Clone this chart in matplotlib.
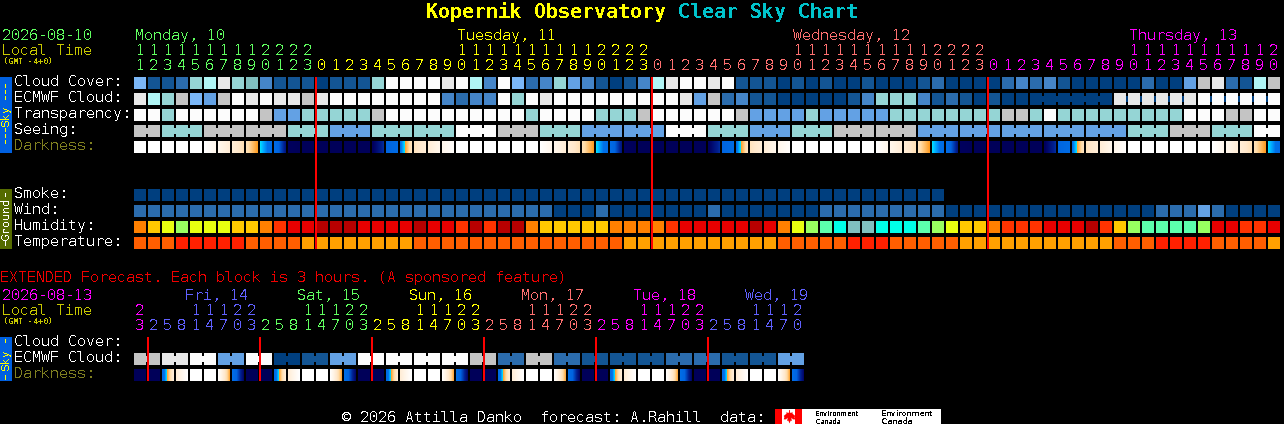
import numpy as np
import matplotlib
matplotlib.use("Agg")
import matplotlib.pyplot as plt
from matplotlib.colors import LinearSegmentedColormap

plt.rcParams['text.antialiased'] = False
plt.rcParams['text.hinting'] = 'native'
plt.rcParams['text.hinting_factor'] = 1
MONO = 'DejaVu Sans Mono'

# ---------- data ----------
main_hours = [11,12,13,14,15,16,17,18,19,20,21,22,23,
              0,1,2,3,4,5,6,7,8,9,10,11,12,13,14,15,16,17,18,19,20,21,22,23,
              0,1,2,3,4,5,6,7,8,9,10,11,12,13,14,15,16,17,18,19,20,21,22,23,
              0,1,2,3,4,5,6,7,8,9,10,11,12,13,14,15,16,17,18,19,20]
main_days = ["Monday, 10", "Tuesday, 11", "Wednesday, 12", "Thursday, 13"]
main_day_cols = [13, 24, 24, 21]
main_label_cols = [0, 23, 47, 71]
main_day_colors = ['#60FF60', '#FFFF00', '#FF7070', '#FF00FF']

ext_hours = [23,2,5,8,11,14,17,20,23,2,5,8,11,14,17,20,23,2,5,8,11,14,17,20,23,
             2,5,8,11,14,17,20,23,2,5,8,11,14,17,20,23,2,5,8,11,14,17,20]
ext_days = ["", "Fri, 14", "Sat, 15", "Sun, 16", "Mon, 17", "Tue, 18", "Wed, 19"]
ext_day_cols = [1, 8, 8, 8, 8, 8, 7]
ext_day_colors = ['#FF00FF', '#6060FF', '#60FF60', '#FFFF00', '#FF7070', '#FF00FF', '#6060FF']

sky_colors = dict(a='#003F7F', b='#135594', c='#2B6CAD', d='#4585C8', e='#63A1E4', f='#7BB7F8',
                  g='#95D5D5', G='#80BFBF', h='#B0F5F5', i='#C4C4C4', j='#E8E8E8', w='#FCFCFC')
hum_colors = dict(O='#FF8000', Y='#FFC800', L='#E8FF10', G='#98FF60', M='#5CFFAC', C='#00FFE8',
                  T='#80BFBF', R='#FF3300', r='#E80000', D='#B80000')
temp_colors = dict(o='#FF5E00', f='#FF2000', a='#FFA000')

cloud_cover = "fbbcghjgGdbbb" + "abbbgwww" + "wjwhdwfcdgedbabd" + "hjwwjwbbbababaa" + "baaabcaaa" + "acdcdbaaaaacaaeijcbhi"
ecmwf_cloud = "jhgifeiwjwjji" + "jwwwwwww" + "wdcddwgwjwwwwwww" + "wwjeicdbbaaaaab" + "dgggdbcba" + "baaaaaaaajjjjjjwwwwww"
transparency = "wwgwwwwwwieeg" + "ggggiwww" + "wwwwwwwgwwwwgggi" + "wwwwwwieeeegeee" + "eeggggggg" + "giigwgggggggggwwwiiww"
seeing_blocks = "igiigeggwigeewgegiieeeeegigw"
seeing_sizes = [2] + [3] * 26 + [2]
smoke = "aaaaaaaaaaaaaaaaaaaaaaaaaaaaaaaaaaaaaaaaaaaaaaaaaaaaaaaaaa"
wind = "ccccccccccccc" + "cccccccc" + "cccccccccaaacaaa" + "aaaacaaaaaaaccccccccc" + "aaa" + "aaaaaaaaaaaacccecaaaa"
humidity = "OYLGLLLYYORrr" + "DDDrrrrD" + "rrRDRDDOYYYYYOOO" + "ORrrrrrDrOLGMCT" + "TCCCMGLYY" + "ORRRrrrDRYGMMMMGrrRRr"
temperature = "ooofffffooooa" + "aaaaaaao" + "ooooooooooooooaa" + "aaaaaaaaaooooofffoooooaa" + "aaaaaaaaaoooffffooooa"

# darkness scale: 0 is daylight, 1 is full dark; start and end value of each block
dark_start = [0,0,0,0,0,0,.1,.2,.3,.46,.6,.93,.95,
              .95,.95,.95,.95,.93,.68,.56,.28,.2,.1,0,0,0,0,0,0,0,.1,.2,.3,.46,.6,.93,.95,
              .95,.95,.95,.95,.93,.68,.56,.28,.2,.1,0,0,0,0,0,0,0,.1,.2,.3,.46,.6,.93,.95,
              .95,.95,.95,.95,.93,.68,.56,.28,.2,.1,0,0,0,0,0,0,0,.1,.2,.3,.46]
dark_end =   [0,0,0,0,0,.1,.2,.3,.45,.6,.85,.95,.95,
              .95,.95,.95,.95,.8,.6,.28,.2,.1,.02,0,0,0,0,0,0,.1,.2,.3,.45,.6,.85,.95,.95,
              .95,.95,.95,.95,.8,.6,.28,.2,.1,.02,0,0,0,0,0,0,.1,.2,.3,.45,.6,.85,.95,.95,
              .95,.95,.95,.95,.8,.6,.28,.2,.1,.02,0,0,0,0,0,0,.1,.2,.3,.45,.6]
ext_dark_start = [.95,.95, .62,.2,0,0,.02,.58,.95,.95, .62,.2,0,0,.02,.58,.95,.95, .62,.2,0,0,.02,.58,.95,.95,
                  .62,.2,0,0,.02,.58,.95,.95, .62,.2,0,0,.02,.58,.95,.95, .62,.2,0,0,.02,.58]
ext_dark_end =   [.95,.95, .2,0,0,0,.42,.9,.95,.95, .2,0,0,0,.42,.9,.95,.95, .2,0,0,0,.42,.9,.95,.95,
                  .2,0,0,0,.42,.9,.95,.95, .2,0,0,0,.42,.9,.95,.95, .2,0,0,0,.42,.9]
ext_ecmwf_blocks = "ijwewabewwwwicicbbbccbbe"

# ---------- figure ----------
fig = plt.figure(figsize=(12.84, 4.24), dpi=100, facecolor='black')
ax = fig.add_axes([0, 0, 1, 1])
ax.set_facecolor('black')
ax.axis('off')

X0, PITCH, CELL, H = 134, 14, 12, 12
dark_cmap = LinearSegmentedColormap.from_list('dark', [
    (0.00, '#FFFFFF'), (0.12, '#FFF5E8'), (0.25, '#FFE8CC'), (0.33, '#FFDCA8'), (0.45, '#FF9C20'),
    (0.452, '#00E8FF'), (0.50, '#00A8FF'), (0.55, '#0070E8'), (0.70, '#0064E0'), (0.82, '#002090'),
    (0.92, '#000060'), (1.00, '#00004E')], N=1024)


def draw_cells(seq, top, palette):
    xs = X0 + PITCH * np.arange(len(seq))
    ax.bar(xs, H, width=CELL, bottom=top, align='edge', color=[palette[c] for c in seq], linewidth=0)


def draw_links(seq, sizes, top, palette, start=0):
    """Cells of one forecast block are joined by a neck in the middle."""
    col = start
    for c, n in zip(seq, sizes):
        for k in range(n - 1):
            ax.bar(X0 + PITCH * (col + k) + CELL, H - 6, width=PITCH - CELL, bottom=top + 3,
                   align='edge', color=palette[c], linewidth=0)
        col += n


def expand(seq, sizes):
    return "".join(c * n for c, n in zip(seq, sizes))


def draw_dark(starts, ends, top):
    for k, (s, e) in enumerate(zip(starts, ends)):
        x = X0 + PITCH * k
        ax.imshow(np.linspace(s, e, CELL)[None, :], extent=(x, x + CELL, top + H, top), cmap=dark_cmap,
                  vmin=0, vmax=1, aspect='auto', interpolation='nearest')


def text(x, y, s, color, size=10.8, weight='normal', **kw):
    ax.text(x, y, s, color=color, fontsize=size, fontweight=weight, family=MONO, va='baseline', **kw)


def header(days, day_cols, label_cols, colors, hours, day_y, tens_y, units_y, off):
    col = 0
    for name, n, lc, c in zip(days, day_cols, label_cols, colors):
        if name:
            text(X0 + PITCH * lc + off, day_y, name, c)
        for h in hours[col:col + n]:
            cx = X0 + PITCH * col + CELL / 2
            if h >= 10:
                text(cx, tens_y, str(h // 10), c, ha='center')
            text(cx, units_y, str(h % 10), c, ha='center')
            col += 1


# title
text(426, 18, "Kopernik Observatory", '#FFFF00', size=14.4, weight='bold')
text(678, 18, "Clear Sky Chart", '#00C4CC', size=14.4, weight='bold')

# main header
text(2, 40, "2026-08-10", '#60FF60')
text(2, 55, "Local Time", '#C8C800')
text(3, 64, "(GMT -4+0)", '#C8C800', size=5.6, weight='bold')
header(main_days, main_day_cols, main_label_cols, main_day_colors, main_hours, 40, 55, 70, 1)

# sky rows
for label, seq, top in [("Cloud Cover:", cloud_cover, 77), ("ECMWF Cloud:", ecmwf_cloud, 93),
                        ("Transparency:", transparency, 109)]:
    draw_cells(seq, top, sky_colors)
    text(14, top + 9, label, 'white')
draw_links(ecmwf_cloud[64:], [6, 6, 6], 93, sky_colors, start=64)
draw_cells(expand(seeing_blocks, seeing_sizes), 125, sky_colors)
draw_links(seeing_blocks, seeing_sizes, 125, sky_colors)
text(14, 134, "Seeing:", 'white')
draw_dark(dark_start, dark_end, 141)
text(14, 150, "Darkness:", '#808020')

# ground rows
for label, seq, top, pal in [("Smoke:", smoke, 189, sky_colors), ("Wind:", wind, 205, sky_colors),
                             ("Humidity:", humidity, 221, hum_colors),
                             ("Temperature:", temperature, 237, temp_colors)]:
    draw_cells(seq, top, pal)
    text(14, top + 9, label, 'white')

# extended forecast
text(0, 282, "EXTENDED Forecast. Each block is 3 hours. (A sponsored feature)", '#F00000')
text(2, 300, "2026-08-13", '#FF00FF')
text(2, 315, "Local Time", '#C8C800')
text(3, 324, "(GMT -4+0)", '#C8C800', size=5.6, weight='bold')
ext_label_cols = [0, 3, 11, 19, 27, 35, 43]
header(ext_days, ext_day_cols, ext_label_cols, ext_day_colors, ext_hours, 300, 315, 330, 9)
text(14, 346, "Cloud Cover:", 'white')
draw_cells(expand(ext_ecmwf_blocks, [2] * 24), 353, sky_colors)
draw_links(ext_ecmwf_blocks, [2] * 24, 353, sky_colors)
text(14, 362, "ECMWF Cloud:", 'white')
draw_dark(ext_dark_start, ext_dark_end, 369)
text(14, 378, "Darkness:", '#808020')

# midnight lines
ax.bar([315, 651, 987], 172, width=2, bottom=77, align='edge', color='#FF0000', linewidth=0, zorder=5)
ax.bar([147, 259, 371, 483, 595, 707], 44, width=2, bottom=337, align='edge', color='#FF0000', linewidth=0, zorder=5)


# side bars
def sidebar(top, bottom, color, label, fg, ymid, dashes):
    ax.bar(0, bottom - top, width=12, bottom=top, align='edge', color=color, linewidth=0)
    ax.text(6, ymid, label, color=fg, fontsize=7.6, family=MONO, rotation=90, ha='center', va='center')
    for y0, y1 in dashes:
        ax.bar(5, y1 - y0, width=1, bottom=y0, align='edge', color=fg, linewidth=0)


sidebar(77, 153, '#0060E0', "Sky", '#FFFF00', 116,
        [(84, 88), (90, 94), (96, 100), (128, 132), (134, 138), (140, 144)])
sidebar(189, 249, '#556B00', "Ground", '#FFFFFF', 219, [(193, 197), (241, 246)])
sidebar(337, 381, '#0060E0', "Sky", '#FFFF00', 359, [(339, 343), (375, 380)])

# footer
text(342.5, 421.5, "\u00a9 2026 Attilla Danko  forecast: A.Rahill  data:", 'white')
ax.bar(775, 15, width=166, bottom=409, align='edge', color='white', linewidth=0)
ax.bar([775, 795], 15, width=7, bottom=409, align='edge', color='#FF0000', linewidth=0)
leaf = [(0, -6), (1, -3.5), (2, -4), (1.6, -1), (3, -2.5), (5, -2.5), (4.4, -0.5), (5, 0.5), (2.5, 2.5), (3, 3.5),
        (0.4, 3.2), (0.4, 5.5), (-0.4, 5.5), (-0.4, 3.2), (-3, 3.5), (-2.5, 2.5), (-5, 0.5), (-4.4, -0.5),
        (-5, -2.5), (-3, -2.5), (-1.6, -1), (-2, -4), (-1, -3.5)]
ax.plot([788.5], [416], marker=leaf, color='#FF0000', markersize=10, markeredgewidth=0)
for x, size in ((815, 5.0), (881, 5.9)):
    ax.text(x, 415.5, "Environment", color='black', fontsize=size, family='DejaVu Sans', va='baseline')
    ax.text(x, 423.5, "Canada", color='black', fontsize=size, family='DejaVu Sans', va='baseline')

ax.set_xlim(0, 1284)
ax.set_ylim(424, 0)
fig.savefig('out.png', dpi=100, facecolor='black')
